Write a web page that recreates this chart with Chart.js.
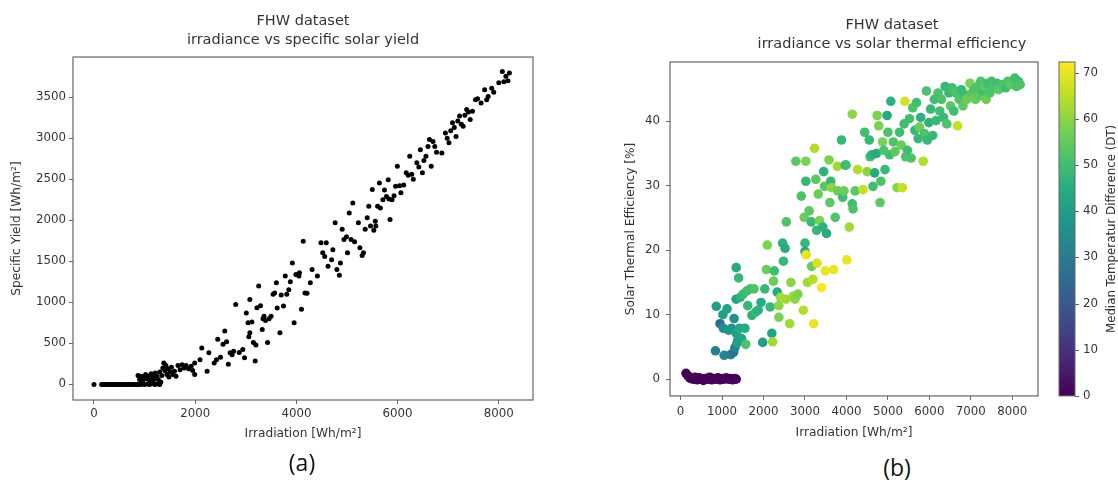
<!DOCTYPE html>
<html>
<head>
<meta charset="utf-8">
<script src="https://cdn.jsdelivr.net/npm/chart.js@4.4.1/dist/chart.umd.min.js"></script>
<style>
    html, body { margin: 0; padding: 0; background: #fff; overflow: hidden; width: 1118px; height: 484px; }
    .box { position: absolute; top: 0; }
    .caption { position: absolute; font-family: 'Open Sans', sans-serif; font-size: 23px; line-height: 23px; color: #111; transform: translateX(-50%); }
</style>
</head>
<body>
<div class="box" style="left:0;"><canvas id="yieldChart" width="560" height="448"></canvas></div>
<div class="box" style="left:620px;"><canvas id="effChart" width="544" height="448"></canvas></div>
<div class="caption" style="left:302px; top:451px;">(a)</div>
<div class="caption" style="left:897px; top:456px;">(b)</div>

<script>
// (a) irradiance vs specific solar yield  [Wh/m²]
const yieldIrr = [
    0, 150, 180, 210, 240, 270, 300, 330, 360, 390, 420, 450, 480, 510, 540, 570, 600, 640, 680, 720,
    760, 800, 840, 880, 920, 960, 1000, 1050, 1100, 1150, 1200, 1260, 1300,
    870, 900, 930, 960, 990, 1020, 1040, 1070, 1100, 1130, 1160, 1190, 1210, 1240, 1270, 1300, 1320, 1340,
    1360, 1380, 1400, 1420, 1440, 1460, 1480, 1500, 1530, 1560, 1590, 1620, 1660, 1700, 1740, 1780, 1820,
    1870, 1920, 1950,
    1990, 1990, 2095, 2130, 2235, 2270, 2375, 2445, 2550, 2585, 2655, 2690, 2760, 2800, 2940, 2975, 3010,
    3045, 3080, 3080, 3150, 3185, 3220, 3255, 3325, 3360, 3430, 3500, 3570, 3605, 3675, 3745, 3780, 3850,
    3920, 3955, 3990, 4060, 4100, 4135, 4170, 4275, 4310, 4415, 4485, 4520, 4590, 4625, 4695, 4765, 4800,
    4870, 4905, 4940, 5010, 5045, 5080, 5115, 5225, 5255, 5325, 5360, 5430, 5465, 5500, 5570, 5605, 5640,
    5710, 5780, 5815, 5850, 5890, 5960, 5995, 6065, 6170, 6240, 6310, 6380, 6450, 6490, 6560, 6630, 6665,
    6735, 6875, 6945, 7015, 7085, 7155, 7225, 7295, 7365, 7435, 7540, 7650, 7720, 7790, 7860, 8000, 8070,
    8140, 8210,
    2420, 2500, 2620, 2730, 2870, 3060, 3120, 3200, 3290, 3340, 3390, 3460, 3540, 3620, 3700, 3810, 3880,
    4050, 4210, 4560, 4720, 4850, 4990, 5150, 5300, 5400, 5530, 5560, 5660, 5740, 5830, 5930, 6040, 6120,
    6210, 6280, 6420, 6520, 6600, 6700, 6770, 6980, 7050, 7120, 7190, 7260, 7330, 7400, 7480, 7580, 7760,
    7900, 8100, 8180
];
const yieldVal = [
    0, 0, 0, 0, 0, 0, 0, 0, 0, 0, 0, 0, 0, 0, 0, 0, 0, 0, 0, 0,
    0, 0, 0, 0, 0, 5, 0, 5, 0, 10, 0, 5, 0,
    110, 60, 100, 40, 90, 120, 70, 100, 50, 130, 90, 60, 140, 100, 60, 150, 30, 110,
    200, 260, 170, 230, 120, 190, 90, 150, 210, 120, 160, 100, 230, 180, 240, 200, 230,
    190, 220, 170,
    120, 260, 300, 445, 160, 385, 260, 550, 490, 650, 245, 385, 405, 975, 425, 325, 870,
    750, 1035, 630, 510, 285, 935, 1200, 670, 830, 510, 830, 1115, 1240, 630, 955, 1320, 1155,
    1480, 750, 1340, 1360, 915, 1745, 1115, 1240, 1400, 1320, 1725, 1605, 1725, 1440, 1520, 1970, 1400,
    1480, 1890, 1765, 1605, 2090, 1765, 2210, 1970, 1665, 1605, 1890, 2170, 1930, 2375, 1930, 2170, 2455,
    2250, 2290, 2495, 2010, 2250, 2415, 2660, 2335, 2580, 2780, 2500, 2700, 2860, 2580, 2780, 2985, 2660,
    2900, 2820, 3065, 2945, 3190, 3020, 3270, 3145, 3350, 3230, 3470, 3430, 3590, 3510, 3610, 3675, 3815,
    3755, 3795,
    300, 330, 520, 360, 390, 580, 760, 480, 960, 800, 780, 800, 1100, 930, 1090, 1100, 1250,
    1320, 1110, 1560, 1640, 1330, 1800, 1740, 1570, 2030, 1880, 1990, 2150, 2370, 2260, 2300, 2420, 2430,
    2550, 2560, 2650, 2730, 2900, 2960, 2830, 3000, 3090, 3130, 3210, 3170, 3280, 3320, 3330, 3480, 3470,
    3560, 3690, 3700
];
const yieldXTicks = [0, 2000, 4000, 6000, 8000];
const yieldYTicks = [0, 500, 1000, 1500, 2000, 2500, 3000, 3500];

// (b) irradiance vs solar thermal efficiency [%], coloured by median temperature difference
const effIrr = [
    130, 180, 220, 260, 300, 350, 400, 450, 500, 550, 600, 650, 700, 750, 800, 850, 900, 950, 1000, 1050,
    1100, 1150, 1200, 1250, 1300, 1340,
    840, 1050, 1210, 1280, 1310, 860, 950, 1020, 1030, 1120, 1160, 1230, 1290, 1340, 1380, 1360, 1420, 1470,
    1550, 1340, 1400, 1340, 1440, 1510, 1600, 1680, 1770, 1570, 1620, 1720, 1810, 1870, 1940, 1980, 2030,
    2070, 2090, 2160, 2200, 2220, 2240, 2260, 2330, 2370, 2370, 2410, 2460, 2480, 2520, 2540, 2550, 2630,
    2660, 2720, 2760, 2780, 2830, 2910, 2960, 2980, 3000, 3000, 3020, 3020, 3030, 3060, 3100, 3150, 3160,
    3190, 3210, 3230, 3260, 3280, 3290, 3320, 3350, 3400, 3430, 3450, 3470, 3490, 3520, 3580, 3600, 3620,
    3640, 3690, 3730, 3780, 3790, 3880, 3910, 3940, 3970, 3990, 4010, 4070, 4140, 4140, 4160, 4210, 4270,
    4400, 4440, 4500, 4550, 4570, 4610, 4640, 4680, 4720, 4740, 4780, 4810, 4830, 4870, 4900, 4930, 4980,
    5000, 5040, 5070, 5130, 5170, 5220, 5280, 5320, 5350, 5390, 5410, 5430, 5470, 5520, 5560, 5600, 5650,
    5690, 5730, 5760, 5790, 5850, 5880, 5930, 5950, 5990, 6030, 6080, 6120, 6160, 6210, 6250, 6290, 6340,
    6380, 6420, 6470, 6510, 6550, 6590, 6640, 6680, 6720, 6770, 6810, 6850, 6900, 6980, 7030, 7070, 7110,
    7160, 7200, 7240, 7280, 7330, 7370, 7410, 7460, 7500, 7540, 7630, 7670, 7760, 7840, 7890, 7970, 8060,
    8100, 8150, 8190
];
const effVal = [
    0.9, 0.5, 0.2, 0.1, 0.0, 0.3, -0.1, 0.2, 0.0, -0.2, 0.1, 0.0, 0.3, -0.1, 0.1, 0.0, 0.2, -0.1, 0.1, 0.0,
    0.2, 0.0, 0.1, -0.1, 0.1, 0.0,
    4.4, 3.7, 3.8, 4.2, 4.9, 11.3, 8.6, 10.0, 7.9, 10.9, 7.6, 7.9, 9.4, 7.1, 6.1, 5.6, 7.9, 6.3,
    7.9, 17.3, 15.7, 12.4, 12.7, 13.2, 13.7, 14.0, 14.0, 5.4, 11.4, 9.9, 10.4, 10.7, 11.9, 5.7, 14.0,
    17.0, 20.8, 11.2, 7.1, 5.8, 15.2, 16.8, 13.5, 11.4, 9.6, 12.7, 21.1, 18.3, 20.3, 12.4, 24.4, 8.6,
    15.0, 12.9, 12.4, 33.8, 13.2, 28.4, 10.7, 25.1, 21.1, 19.8, 33.8, 30.7, 19.3, 15.0, 26.1, 24.4, 17.5,
    15.5, 8.6, 35.8, 31.0, 23.1, 18.0, 28.7, 24.6, 14.2, 23.6, 32.2, 29.9, 16.8, 22.6, 34.0, 27.4, 30.7,
    29.7, 17.0, 25.1, 33.0, 29.2, 37.1, 28.2, 29.2, 33.2, 33.2, 18.5, 23.6, 27.2, 41.1, 26.4, 29.2, 32.5,
    29.4, 38.3, 32.2, 37.1, 34.5, 34.8, 29.9, 32.0, 35.0, 40.9, 39.3, 27.4, 30.7, 36.8, 35.5, 32.5, 40.9,
    38.3, 34.8, 43.1, 36.8, 35.3, 29.7, 38.3, 36.3, 29.7, 39.6, 43.1, 34.5, 35.5, 40.4, 34.3, 42.1, 38.6,
    42.9, 37.3, 39.1, 40.6, 33.8, 38.1, 44.7, 37.1, 39.8, 41.9, 37.8, 43.4, 40.1, 44.4, 41.6, 43.4, 40.6,
    45.4, 39.6, 44.4, 42.4, 45.2, 41.6, 44.4, 39.3, 43.4, 44.9, 42.4, 44.2, 43.4, 45.9, 44.4, 44.9, 43.4,
    45.4, 43.9, 46.2, 44.7, 45.4, 43.4, 45.9, 44.4, 46.2, 45.2, 45.9, 44.9, 45.7, 45.2, 46.2, 45.7, 46.7,
    45.4, 46.2, 45.7
];
const effDT = [
    1, 0, 1, 0, 0, 1, 0, 0, 1, 0, 0, 1, 0, 0, 1, 0, 0, 1, 0, 0,
    1, 0, 0, 1, 0, 1,
    30, 33, 30, 28, 32, 40, 25, 40, 36, 42, 38, 38, 36, 40, 42, 40, 44, 42,
    44, 44, 48, 42, 46, 48, 50, 50, 52, 52, 48, 46, 48, 46, 44, 40, 48,
    56, 58, 48, 42, 62, 56, 50, 44, 60, 58, 62, 46, 48, 44, 62, 52, 62,
    60, 62, 60, 54, 58, 52, 64, 56, 48, 44, 58, 48, 70, 62, 54, 48, 56,
    64, 70, 64, 54, 48, 68, 56, 58, 72, 46, 46, 54, 70, 44, 58, 54, 48,
    60, 70, 52, 62, 56, 48, 50, 56, 46, 50, 70, 62, 50, 60, 52, 54, 64,
    66, 50, 60, 48, 52, 46, 50, 44, 44, 58, 58, 54, 52, 58, 52, 48, 44,
    52, 50, 46, 52, 54, 60, 50, 56, 66, 50, 68, 52, 50, 50, 52, 52, 48,
    50, 48, 56, 46, 64, 52, 52, 48, 46, 48, 48, 50, 48, 52, 50, 52, 48,
    48, 52, 48, 54, 50, 50, 52, 66, 52, 48, 54, 50, 56, 58, 54, 52, 56,
    52, 54, 52, 50, 54, 56, 50, 52, 50, 52, 50, 54, 52, 50, 52, 54, 50,
    52, 50, 52
];
const effXTicks = [0, 1000, 2000, 3000, 4000, 5000, 6000, 7000, 8000];
const effYTicks = [0, 10, 20, 30, 40];
const dtTicks = [0, 10, 20, 30, 40, 50, 60, 70];
const dtMax = 72.3;

// viridis colour map, 11 stops from 0 to 1
const viridisStops = ['#440154', '#482475', '#414487', '#355f8d', '#2a788e', '#21918c',
    '#22a884', '#44bf70', '#7ad151', '#bddf26', '#fde725'];

function hexToRgb(hex) {
    return [1, 3, 5].map(i => parseInt(hex.substr(i, 2), 16));
}

function viridis(t) {
    t = Math.min(1, Math.max(0, t));
    const pos = t * (viridisStops.length - 1);
    const i = Math.min(viridisStops.length - 2, Math.floor(pos));
    const f = pos - i;
    const a = hexToRgb(viridisStops[i]);
    const b = hexToRgb(viridisStops[i + 1]);
    const c = a.map((v, k) => Math.round(v + (b[k] - v) * f));
    return `rgb(${c[0]}, ${c[1]}, ${c[2]})`;
}

Chart.defaults.font.family = "'DejaVu Sans', sans-serif";
Chart.defaults.color = '#333';
Chart.defaults.animation = false;

const textColor = '#333';
const axisColor = '#666';

// closed box round the plot area, like matplotlib spines
const framePlugin = {
    id: 'frame',
    afterDatasetsDraw(chart) {
        const { ctx, chartArea: a } = chart;
        ctx.save();
        ctx.strokeStyle = axisColor;
        ctx.lineWidth = 1.2;
        ctx.strokeRect(a.left, a.top, a.right - a.left, a.bottom - a.top);
        ctx.restore();
    }
};

// gradient bar next to the cb scale, plus its tick marks and rotated label
const colorbarPlugin = {
    id: 'colorbar',
    afterDraw(chart) {
        const { ctx, chartArea: a } = chart;
        const sc = chart.scales.cb;
        const x0 = a.right + 21;
        const w = 16;
        ctx.save();
        const grad = ctx.createLinearGradient(0, sc.getPixelForValue(0), 0, sc.getPixelForValue(dtMax));
        viridisStops.forEach((c, i) => grad.addColorStop(i / (viridisStops.length - 1), c));
        ctx.fillStyle = grad;
        ctx.fillRect(x0, sc.top, w, sc.bottom - sc.top);
        ctx.strokeStyle = axisColor;
        ctx.lineWidth = 1;
        ctx.strokeRect(x0, sc.top, w, sc.bottom - sc.top);
        ctx.beginPath();
        sc.ticks.forEach(t => {
            const y = Math.round(sc.getPixelForValue(t.value)) + 0.5;
            ctx.moveTo(x0 + w, y);
            ctx.lineTo(x0 + w + 4, y);
        });
        ctx.stroke();
        ctx.translate(a.right + 74, (sc.top + sc.bottom) / 2);
        ctx.rotate(-Math.PI / 2);
        ctx.fillStyle = textColor;
        ctx.font = "11.8px 'DejaVu Sans', sans-serif";
        ctx.textAlign = 'center';
        ctx.textBaseline = 'middle';
        ctx.fillText('Median Temperatur Difference (DT)', 0, 0);
        ctx.restore();
    }
};

function tickAxis(ticksArr, min, max, extra) {
    return Object.assign({
        type: 'linear',
        min: min,
        max: max,
        afterBuildTicks: s => { s.ticks = ticksArr.map(v => ({ value: v })); },
        grid: { drawOnChartArea: false, tickLength: 4, color: axisColor, lineWidth: 1 },
        border: { display: false },
        ticks: { color: textColor, font: { size: 11.8 }, callback: v => String(v) }
    }, extra);
}

new Chart(document.getElementById('yieldChart'), {
    type: 'scatter',
    data: {
        datasets: [{
            data: yieldIrr.map((x, i) => ({ x: x, y: yieldVal[i] })),
            backgroundColor: '#000',
            borderWidth: 0,
            pointRadius: 2.5
        }]
    },
    options: {
        responsive: false,
        layout: { padding: { left: 0, right: 27, top: 0, bottom: 0 } },
        plugins: {
            legend: { display: false },
            tooltip: { enabled: false },
            title: {
                display: true,
                fullSize: false,
                text: ['FHW dataset', 'irradiance vs specific solar yield'],
                color: textColor,
                font: { size: 14.5, weight: 'normal', lineHeight: 1.28 },
                padding: { top: 12, bottom: 7.9 }
            }
        },
        scales: {
            x: tickAxis(yieldXTicks, -415, 8676, {
                afterFit: s => { s.height = 48; },
                title: { display: true, text: 'Irradiation [Wh/m²]', color: textColor,
                    font: { size: 12.2 }, padding: { top: 0, bottom: 7 } }
            }),
            y: tickAxis(yieldYTicks, -190, 3990, {
                afterFit: s => { s.width = 73; },
                title: { display: true, text: 'Specific Yield [Wh/m²]', color: textColor,
                    font: { size: 12.2 }, padding: { top: 10, bottom: 0 } }
            })
        }
    },
    plugins: [framePlugin]
});

new Chart(document.getElementById('effChart'), {
    type: 'scatter',
    data: {
        datasets: [{
            xAxisID: 'x',
            yAxisID: 'y',
            data: effIrr.map((x, i) => ({ x: x, y: effVal[i] })),
            backgroundColor: ctx => viridis(effDT[ctx.dataIndex] / dtMax),
            borderWidth: 0,
            pointRadius: 4.8
        }]
    },
    options: {
        responsive: false,
        layout: { padding: 0 },
        plugins: {
            legend: { display: false },
            tooltip: { enabled: false },
            title: {
                display: true,
                text: ['FHW dataset', 'irradiance vs solar thermal efficiency'],
                color: textColor,
                font: { size: 14.5, weight: 'normal', lineHeight: 1.31 },
                padding: { top: 15.5, bottom: 8.5 }
            }
        },
        scales: {
            x: tickAxis(effXTicks, -256, 8620, {
                afterFit: s => { s.height = 46; },
                ticks: { color: textColor, font: { size: 11.8 }, padding: 5, callback: v => String(v) },
                title: { display: true, text: 'Irradiation [Wh/m²]', color: textColor,
                    font: { size: 12.2 }, padding: { top: 0, bottom: 2 } }
            }),
            y: tickAxis(effYTicks, -2.6, 49.2, {
                afterFit: s => { s.width = 50; },
                ticks: { color: textColor, font: { size: 11.8 }, padding: 6, callback: v => String(v) },
                title: { display: true, text: 'Solar Thermal Efficiency [%]', color: textColor,
                    font: { size: 12.2 }, padding: { top: 4, bottom: 0 } }
            }),
            cb: {
                type: 'linear',
                position: 'right',
                min: 0,
                max: dtMax,
                afterBuildTicks: s => { s.ticks = dtTicks.map(v => ({ value: v })); },
                afterFit: s => { s.width = 126; },
                grid: { display: false, drawTicks: false, tickLength: 0 },
                border: { display: false },
                ticks: { color: textColor, font: { size: 11.8 }, padding: 45 }
            }
        }
    },
    plugins: [framePlugin, colorbarPlugin]
});
</script>
</body>
</html>
